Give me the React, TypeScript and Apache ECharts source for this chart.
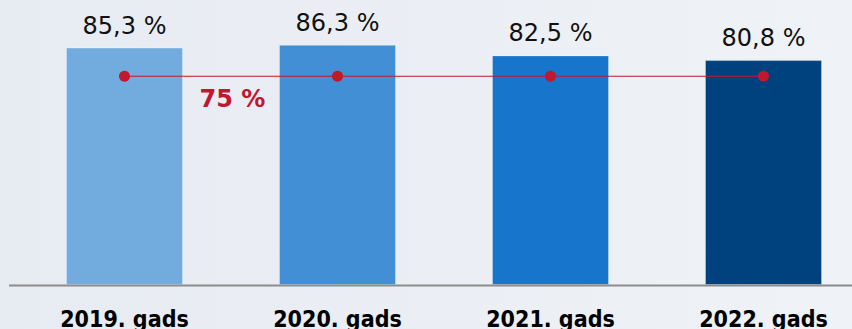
import React, { useEffect, useRef } from "react";
import * as echarts from "echarts";

const categories = ["2019. gads", "2020. gads", "2021. gads", "2022. gads"];
const shares = [85.3, 86.3, 82.5, 80.8];
const barColors = ["#72abde", "#438fd5", "#1875cc", "#00427e"];
const targetLine = [75, 75, 75, 75];
const targetLabel = "75 %";

const fmt = (v: number) => v.toFixed(1).replace(".", ",") + " %";

export default function App() {
  const ref = useRef<HTMLDivElement>(null);

  useEffect(() => {
    if (!ref.current) return;
    const chart = echarts.init(ref.current, null, { renderer: "svg" });
    chart.setOption({
      animation: false,
      backgroundColor: {
        type: "linear",
        x: 0,
        y: 0,
        x2: 1,
        y2: 0,
        colorStops: [
          { offset: 0, color: "#e7ebf2" },
          { offset: 1, color: "#eff2f6" },
        ],
      },
      grid: {
        left: 18,
        width: 852,
        top: 0,
        bottom: 44,
        containLabel: false,
        outerBoundsMode: "none",
      },
      xAxis: {
        type: "category",
        data: categories,
        axisLine: { show: false },
        axisTick: { show: false },
        axisLabel: {
          margin: 22,
          fontFamily: "'DejaVu Sans Condensed', 'DejaVu Sans'",
          fontWeight: "bold",
          fontSize: 23,
          color: "#000",
        },
      },
      yAxis: {
        type: "value",
        min: 0,
        max: 102.4,
        show: false,
        splitLine: { show: false },
      },
      graphic: [
        {
          type: "line",
          shape: { x1: 9, y1: 285.5, x2: 852, y2: 285.5 },
          style: { stroke: "#8c8c8c", lineWidth: 2 },
          z: 10,
        },
      ],
      series: [
        {
          type: "bar",
          data: shares.map((v, i) => ({
            value: v,
            itemStyle: { color: barColors[i] },
          })),
          barWidth: 117,
          itemStyle: { borderColor: "rgba(255,255,255,0.3)", borderWidth: 1 },
          label: {
            show: true,
            position: "top",
            distance: 10,
            formatter: (p: any) => fmt(p.value),
            fontFamily: "DejaVu Sans",
            fontSize: 24,
            color: "#111",
          },
        },
        {
          type: "line",
          data: targetLine,
          symbol: "circle",
          symbolSize: 11,
          lineStyle: { color: "#c0182f", width: 1 },
          itemStyle: { color: "#c0182f" },
          z: 5,
          label: {
            show: true,
            position: "bottom",
            formatter: (p: any) => (p.dataIndex === 0 ? targetLabel : ""),
            offset: [108, 0],
            distance: 5,
            fontFamily: "DejaVu Sans",
            fontWeight: "bold",
            fontSize: 24,
            color: "#c0182f",
          },
        },
      ],
    });
    return () => chart.dispose();
  }, []);

  return (
    <div
      ref={ref}
      style={{ position: "fixed", left: 0, top: 0, width: 852, height: 329 }}
    />
  );
}
